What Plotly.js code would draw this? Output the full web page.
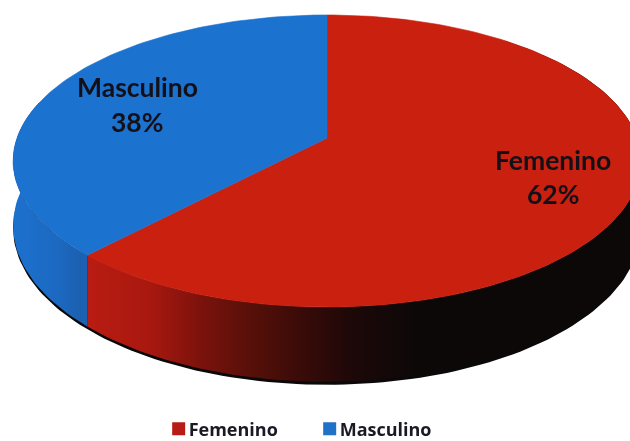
<!DOCTYPE html>
<html><head><meta charset="utf-8">
<script src="https://cdn.plot.ly/plotly-3.0.1.min.js"></script>
<style>html,body{margin:0;padding:0;background:#fff}#c{width:630px;height:441px;filter:blur(0.7px)}</style>
</head><body><div id="c"></div>
<script>
var categories = ["Femenino", "Masculino"];
var shares = [62, 38];
var topColors = ["#c9200f", "#1c72cf"];
var legendColors = ["#b81c14", "#1f72c8"];
var percentLabels = ["62%", "38%"];

// Perspective disc projected on a pixel-scale axis pair
var CX = 327, CY = 138, K = 0.1575, A = 142.4, B = 310;
function px(t, d) { var r = t * Math.PI / 180; return CX + B * Math.sin(r) / (1 + K * Math.cos(r)); }
function py(t, d) { var r = t * Math.PI / 180, w = 1 + K * Math.cos(r); return CY - A * Math.cos(r) / w + (d || 0) / w; }
function arc(a, b, d) {
  var xs = [], ys = [], n = Math.ceil(Math.abs(b - a) / 1.5);
  for (var i = 0; i <= n; i++) { var t = a + (b - a) * i / n; xs.push(px(t, d)); ys.push(py(t, d)); }
  return [xs, ys];
}
var split = 360 * shares[0] / (shares[0] + shares[1]);

function wedge(a, b, color, name) {
  var p = arc(a, b, 0);
  return { type: "scatter", mode: "lines", x: [CX].concat(p[0], [CX]), y: [CY].concat(p[1], [CY]),
    fill: "toself", fillcolor: color, line: { width: 0.6, color: color }, showlegend: false, hoverinfo: "skip", name: name };
}
function wall(a, b, d, fillOpts) {
  var t = arc(a, b, 0), u = arc(b, a, d);
  var tr = { type: "scatter", mode: "lines", x: t[0].concat(u[0]), y: t[1].concat(u[1]), fill: "toself",
    line: { width: 0 }, showlegend: false, hoverinfo: "skip" };
  for (var k in fillOpts) tr[k] = fillOpts[k];
  return tr;
}
var DEPTH = 63;
var traces = [
  wall(50, 285, DEPTH + 2.5, { fillcolor: "#0a0808" }),
  wall(40, split, DEPTH, { fillgradient: { type: "horizontal", start: 92, stop: 420, colorscale: [
    [0, "#b81c12"], [0.177, "#a8180f"], [0.33, "#7c120c"], [0.48, "#581009"], [0.634, "#3a0b08"], [0.787, "#1e0808"], [1, "#0c0808"] ] } }),
  wall(split, 282, DEPTH, { fillgradient: { type: "horizontal", start: 12, stop: 92, colorscale: [
    [0, "#1c72cf"], [0.6, "#1c68c0"], [0.85, "#1c60b0"], [1, "#1a62b8"] ] } }),
  wedge(0, split, topColors[0], categories[0]),
  wedge(split, 360, topColors[1], categories[1]),
  { type: "scatter", mode: "markers", x: [null], y: [null], name: categories[0],
    marker: { symbol: "square", size: 13, color: legendColors[0] }, hoverinfo: "skip" },
  { type: "scatter", mode: "markers", x: [null], y: [null], name: categories[1],
    marker: { symbol: "square", size: 13, color: legendColors[1] }, hoverinfo: "skip" }
];
var labelFont = { family: "Lato, 'Open Sans', sans-serif", size: 26.5, color: "#141018", weight: 700 };
var layout = {
  width: 630, height: 441, margin: { l: 0, r: 0, t: 0, b: 0, autoexpand: false }, paper_bgcolor: "#fff", plot_bgcolor: "#fff",
  xaxis: { range: [0, 630], visible: false, fixedrange: true },
  yaxis: { range: [441, 0], visible: false, fixedrange: true },
  showlegend: true,
  legend: { orientation: "h", x: 0.236, xanchor: "left", y: 0.027, yanchor: "middle", bgcolor: "rgba(0,0,0,0)",
    entrywidth: 106, entrywidthmode: "pixels",
    font: { family: "'Open Sans', sans-serif", size: 18, color: "#1a1a24", weight: 700 }, traceorder: "normal" },
  annotations: [
    { x: 553, y: 160, xref: "x", yref: "y", text: categories[0], showarrow: false, font: labelFont },
    { x: 553, y: 194, xref: "x", yref: "y", text: percentLabels[0], showarrow: false, font: labelFont },
    { x: 137, y: 87, xref: "x", yref: "y", text: categories[1], showarrow: false, font: labelFont },
    { x: 137, y: 122, xref: "x", yref: "y", text: percentLabels[1], showarrow: false, font: labelFont }
  ]
};
Plotly.newPlot("c", traces, layout, { displayModeBar: false, staticPlot: true }).then(function () {
  // The reference sets each legend swatch right beside its text
  document.querySelectorAll("#c .legendpoints path").forEach(function (p) {
    p.setAttribute("transform", "translate(30,0)");
  });
});
</script></body></html>
